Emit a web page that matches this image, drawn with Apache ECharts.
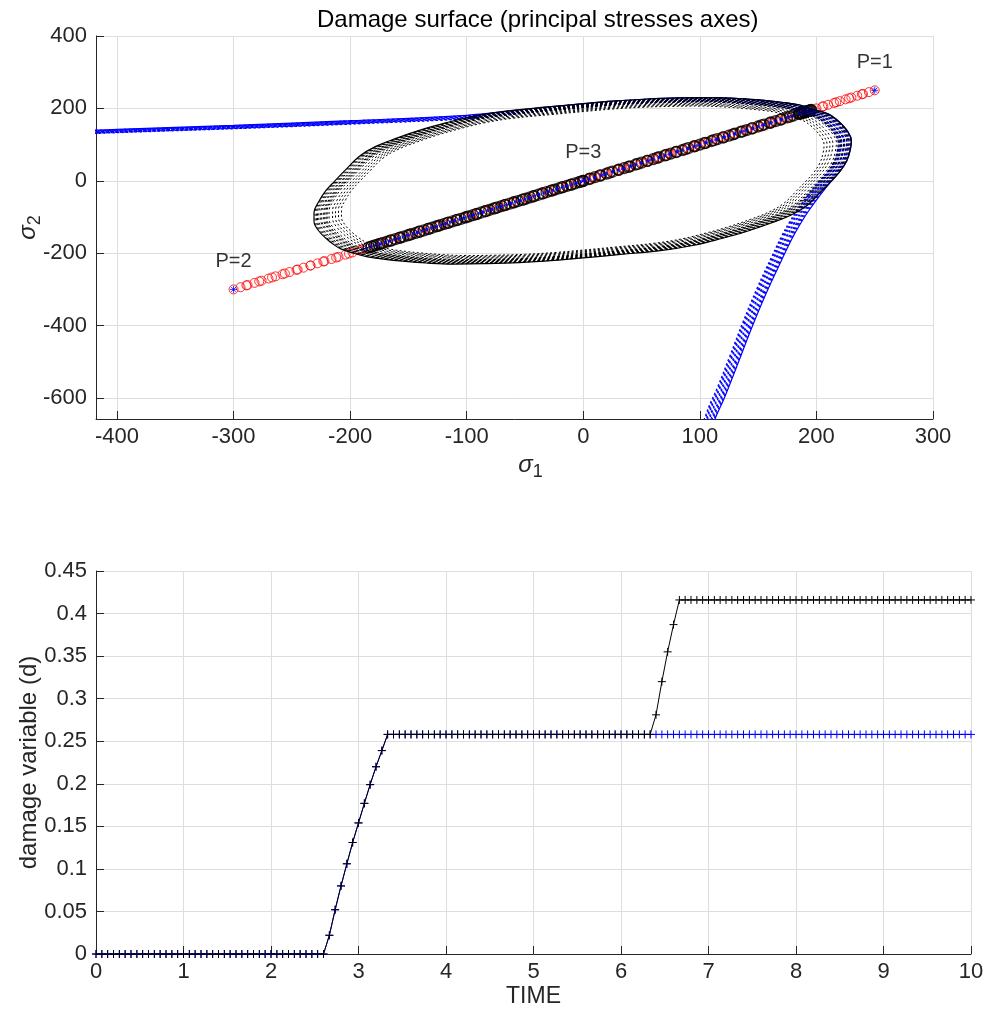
<!DOCTYPE html>
<html><head><meta charset="utf-8">
<script src="https://cdn.jsdelivr.net/npm/echarts@6.0.0/dist/echarts.min.js"></script>
<style>html,body{margin:0;padding:0;background:#fff}#c{width:987px;height:1010px}</style>
</head><body><div id="c"></div>
<script>
// ---------- TOP CHART DATA (principal stresses) ----------
// outer damage surface (symmetric model), [sigma1, sigma2]
const surfaceOuterSym = [
  [197,197],[185,210],[170,217],[155,222],[135,227],[112,230],[85,229],[55,226],[25,220],[0,213],[-30,204],[-68,192],[-95,178],[-118,160],[-140,140],
  [-160,118],[-178,95],[-192,68],[-204,30],[-213,0],[-221,-28],[-227,-58],[-231,-88],[-231,-112],[-227,-138],[-221,-158],[-215,-174],[-208,-188],[-197,-200],
  [-185,-210],[-170,-217],[-155,-222],[-135,-227],[-112,-230],[-85,-229],[-55,-226],[-25,-220],[0,-213],[30,-204],[68,-192],[95,-178],[118,-160],[140,-140],
  [160,-118],[178,-95],[192,-68],[204,-30],[213,0],[220,25],[226,55],[229,85],[230,112],[227,135],[222,155],[217,170],[210,185],[197,197]
];
// relative size q/q0 of the successive surfaces (symmetric model)
const surfaceScalesSym = [1, 0.996, 0.991, 0.987, 0.982, 0.975, 0.971, 0.964, 0.96, 0.955, 0.951, 0.944, 0.931, 0.92, 0.909, 0.898];
// outer damage surface (non-symmetric model)
const surfaceOuterNonsym = [
  [-470,134],[-418,140],[-400,142],[-300,153],[-200,166],[-100,181],[-60,194],[-30,204],[0,213],[25,220],[55,226],[85,229],[112,230],[135,227],[155,222],
  [170,217],[185,210],[197,197],[210,185],[217,170],[222,155],[227,135],[230,112],[229,85],[226,55],[220,25],[213,0],[203,-40],[194,-80],[186,-120],
  [179,-160],[170,-220],[157,-310],[144,-410],[132,-510],[121,-600],[113,-658],[102,-760]
];
const surfaceScalesNonsym = [1, 0.996, 0.991, 0.987, 0.982, 0.975, 0.971, 0.964, 0.96, 0.955, 0.951];

// effective stress path (sigma1 = sigma2)
const pathEffective = [
  0,5,10,15,20,25,30,35,40,45,50,55,60,65,70,75,80,85,90,95,100,105,110,115,120,125,130,135,140,145,150,155,160,165,170,175,180,185,190,195,200,205,210,215,220,225,230,235,240,245,250,
  239,228,217,206,195,184,173,162,151,140,129,118,107,96,85,74,63,52,41,30,19,8,-3,-14,-25,-36,-47,-58,-69,-80,-91,-102,-113,-124,-135,-146,-157,-168,-179,-190,-201,-212,-223,-234,-245,-256,-267,-278,-289,-300,
  -294,-288,-282,-276,-270,-264,-258,-252,-246,-240,-234,-228,-222,-216,-210,-204,-198,-192,-186,-180,-174,-168,-162,-156,-150,-144,-138,-132,-126,-120,-114,-108,-102,-96,-90,-84,-78,-72,-66,-60,-54,-48,-42,-36,-30,-24,-18,-12,-6,0
];
// stress path, symmetric model
const pathSym = [
  0,5,10,15,20,25,30,35,40,45,50,55,60,65,70,75,80,85,90,95,100,105,110,115,120,125,130,135,140,145,150,155,160,165,170,175,180,185,190,195,
  195.6,194.3,193.2,192.4,191.4,190.1,189.3,188,187.2,186.2,185.5,
  177.3,169.2,161,152.9,144.7,136.6,128.4,120.2,112.1,103.9,95.8,87.6,79.5,71.3,63.1,55,46.8,38.7,30.5,22.4,14.2,6,-2.1,-10.3,-18.4,-26.6,-34.8,-42.9,-51.1,-59.2,-67.4,-75.5,-83.7,-91.9,-100,-108.2,-116.3,-124.5,-132.6,-140.8,-149,-157.1,-165.3,-173.4,-181.6,
  -184,-181.6,-179.3,-177.2,-175.2,
  -171.7,-168.2,-164.7,-161.2,-157.7,-154.2,-150.7,-147.2,-143.7,-140.2,-136.7,-133.2,-129.7,-126.1,-122.6,-119.1,-115.6,-112.1,-108.6,-105.1,-101.6,-98.1,-94.6,-91.1,-87.6,-84.1,-80.6,-77.1,-73.6,-70.1,-66.6,-63.1,-59.6,-56.1,-52.6,-49.1,-45.6,-42,-38.5,-35,-31.5,-28,-24.5,-21,-17.5,-14,-10.5,-7,-3.5,0
];
// stress path, non-symmetric model
const pathNonsym = [
  0,5,10,15,20,25,30,35,40,45,50,55,60,65,70,75,80,85,90,95,100,105,110,115,120,125,130,135,140,145,150,155,160,165,170,175,180,185,190,195,
  195.6,194.3,193.2,192.4,191.4,190.1,189.3,188,187.2,186.2,185.5,
  177.5,169.5,161.5,153.5,145.5,137.5,129.5,121.5,113.5,105.5,97.5,89.5,81.5,73.5,65.5,57.5,49.5,41.5,33.5,25.5,17.5,9.5,1.5,-6.5,-14.5,-22.5,-30.5,-38.5,-46.5,-54.5,-62.5,-70.5,-78.5,-86.5,-94.5,-102.5,-110.5,-118.5,-126.5,-134.5,-142.5,-150.5,-158.5,-166.5,-174.5,-182.5,-190,
  -186,-182,-178,-174,-170,-166,-162,-158,-154,-150,-146,-142,-138,-134,-130,-126,-122,-118,-114,-110,-106,-102,-98,-94,-90,-86,-82,-78,-74,-70,-66,-62,-58,-54,-50,-46,-42,-38,-34,-30,-26,-22,-18,-14,-10,-6,-2,0
];
const loadPoints = [[250,250],[-300,-300],[0,0]];
const loadLabels = ['P=1','P=2','P=3'];

// ---------- BOTTOM CHART DATA ----------
const timeSteps = [
  0,0.067,0.133,0.2,0.267,0.333,0.4,0.467,0.533,0.6,0.667,0.733,0.8,0.867,0.933,
  1,1.067,1.133,1.2,1.267,1.333,1.4,1.467,1.533,1.6,1.667,1.733,1.8,1.867,1.933,
  2,2.067,2.133,2.2,2.267,2.333,2.4,2.467,2.533,2.6,2.667,2.733,2.8,2.867,2.933,
  3,3.067,3.133,3.2,3.267,3.333,3.4,3.467,3.533,3.6,3.667,3.733,3.8,3.867,3.933,
  4,4.067,4.133,4.2,4.267,4.333,4.4,4.467,4.533,4.6,4.667,4.733,4.8,4.867,4.933,
  5,5.067,5.133,5.2,5.267,5.333,5.4,5.467,5.533,5.6,5.667,5.733,5.8,5.867,5.933,
  6,6.067,6.133,6.2,6.267,6.333,6.4,6.467,6.533,6.6,6.667,6.733,6.8,6.867,6.933,
  7,7.067,7.133,7.2,7.267,7.333,7.4,7.467,7.533,7.6,7.667,7.733,7.8,7.867,7.933,
  8,8.067,8.133,8.2,8.267,8.333,8.4,8.467,8.533,8.6,8.667,8.733,8.8,8.867,8.933,
  9,9.067,9.133,9.2,9.267,9.333,9.4,9.467,9.533,9.6,9.667,9.733,9.8,9.867,9.933,
  10
];
const damageSym = [
  0,0,0,0,0,0,0,0,0,0,0,0,0,0,0,
  0,0,0,0,0,0,0,0,0,0,0,0,0,0,0,
  0,0,0,0,0,0,0,0,0,0,0.022,0.052,0.08,0.106,0.131,
  0.154,0.177,0.199,0.22,0.239,0.258,0.258,0.258,0.258,0.258,0.258,0.258,0.258,0.258,0.258,
  0.258,0.258,0.258,0.258,0.258,0.258,0.258,0.258,0.258,0.258,0.258,0.258,0.258,0.258,0.258,
  0.258,0.258,0.258,0.258,0.258,0.258,0.258,0.258,0.258,0.258,0.258,0.258,0.258,0.258,0.258,
  0.258,0.258,0.258,0.258,0.258,0.258,0.281,0.32,0.355,0.387,0.416,0.416,0.416,0.416,0.416,
  0.416,0.416,0.416,0.416,0.416,0.416,0.416,0.416,0.416,0.416,0.416,0.416,0.416,0.416,0.416,
  0.416,0.416,0.416,0.416,0.416,0.416,0.416,0.416,0.416,0.416,0.416,0.416,0.416,0.416,0.416,
  0.416,0.416,0.416,0.416,0.416,0.416,0.416,0.416,0.416,0.416,0.416,0.416,0.416,0.416,0.416,
  0.416
];
const damageNonsym = [
  0,0,0,0,0,0,0,0,0,0,0,0,0,0,0,
  0,0,0,0,0,0,0,0,0,0,0,0,0,0,0,
  0,0,0,0,0,0,0,0,0,0,0.022,0.052,0.08,0.106,0.131,
  0.154,0.177,0.199,0.22,0.239,0.258,0.258,0.258,0.258,0.258,0.258,0.258,0.258,0.258,0.258,
  0.258,0.258,0.258,0.258,0.258,0.258,0.258,0.258,0.258,0.258,0.258,0.258,0.258,0.258,0.258,
  0.258,0.258,0.258,0.258,0.258,0.258,0.258,0.258,0.258,0.258,0.258,0.258,0.258,0.258,0.258,
  0.258,0.258,0.258,0.258,0.258,0.258,0.258,0.258,0.258,0.258,0.258,0.258,0.258,0.258,0.258,
  0.258,0.258,0.258,0.258,0.258,0.258,0.258,0.258,0.258,0.258,0.258,0.258,0.258,0.258,0.258,
  0.258,0.258,0.258,0.258,0.258,0.258,0.258,0.258,0.258,0.258,0.258,0.258,0.258,0.258,0.258,
  0.258,0.258,0.258,0.258,0.258,0.258,0.258,0.258,0.258,0.258,0.258,0.258,0.258,0.258,0.258,
  0.258
];

// ---------- STYLE ----------
const FONT = '"Liberation Sans", Arial, Helvetica, sans-serif';
const TXT = '#262626';
const GRIDC = '#dedede';
const PLUS = 'path://M0,5L10,5M5,0L5,10';
const STAR = 'path://M5,0L5,10M0,5L10,5M1.5,1.5L8.5,8.5M8.5,1.5L1.5,8.5';
const CROSS = 'path://M0,0L10,10M10,0L0,10';

function scaledSurface(outer, s) { return outer.map(p => [p[0] * s, p[1] * s]); }
function diag(arr) { return arr.map(v => [v, v]); }
function tbl(xs, ys) { return xs.map((x, i) => [x, ys[i]]); }

function surfaceSeries(outer, scales, color, w) {
  return scales.map((s, i) => ({
    type: 'line', xAxisIndex: 0, yAxisIndex: 0, silent: true,
    data: scaledSurface(outer, s), smooth: 0.4, showSymbol: false, clip: true,
    lineStyle: i === 0 ? {color: color, width: 1.2} : {color: color, width: w, type: [2.2 * s, 2.6 * s], dashOffset: 0}
  }));
}

function axisStyle(o) {
  const base = {
    type: 'value',
    axisLine: {show: true, onZero: false, lineStyle: {color: TXT, width: 1}},
    axisTick: {show: true, inside: true, length: 8, lineStyle: {color: TXT, width: 1}},
    splitLine: {show: true, lineStyle: {color: GRIDC, width: 1}},
    nameMoveOverlap: false
  };
  return Object.assign(base, o);
}

const sigRich = {
  s: {fontSize: 24, fontStyle: 'italic', fontFamily: FONT, color: TXT},
  n: {fontSize: 18, fontFamily: FONT, color: TXT, padding: [14, 0, 0, 0]}
};

const series = [
  ...surfaceSeries(surfaceOuterNonsym, surfaceScalesNonsym, '#0000ff', 1.2),
  ...surfaceSeries(surfaceOuterSym, surfaceScalesSym, '#000000', 1),
  {type: 'scatter', xAxisIndex: 0, yAxisIndex: 0, silent: true, data: diag(pathEffective), symbol: 'circle', symbolSize: 9,
   itemStyle: {color: 'rgba(0,0,0,0)', borderColor: '#ff0000', borderWidth: 1}},
  {type: 'scatter', xAxisIndex: 0, yAxisIndex: 0, silent: true, data: diag(pathSym), symbol: 'circle', symbolSize: 11,
   itemStyle: {color: 'rgba(0,0,0,0)', borderColor: '#000000', borderWidth: 1.3}},
  {type: 'scatter', xAxisIndex: 0, yAxisIndex: 0, silent: true, data: diag(pathNonsym), symbol: 'circle', symbolSize: 3,
   itemStyle: {color: '#0000ff'}},
  {type: 'scatter', xAxisIndex: 0, yAxisIndex: 0, silent: true, data: loadPoints.slice(0, 2), symbol: STAR, symbolSize: 7,
   itemStyle: {color: 'rgba(0,0,0,0)', borderColor: '#0000ff', borderWidth: 1}},
  {type: 'scatter', xAxisIndex: 0, yAxisIndex: 0, silent: true, data: loadPoints.slice(2), symbol: CROSS, symbolSize: 7,
   itemStyle: {color: 'rgba(0,0,0,0)', borderColor: '#0000ff', borderWidth: 1}},
  {type: 'scatter', xAxisIndex: 0, yAxisIndex: 0, silent: true, symbolSize: 0,
   data: loadPoints.map((p, i) => ({value: p, name: loadLabels[i]})),
   label: {show: true, position: 'top', distance: 18, formatter: '{b}', fontSize: 20, fontFamily: FONT, color: '#000'}},
  // bottom chart
  {type: 'line', xAxisIndex: 1, yAxisIndex: 1, silent: true, data: tbl(timeSteps, damageNonsym), symbol: PLUS, symbolSize: 8, showSymbol: true,
   lineStyle: {color: '#0000ff', width: 1}, itemStyle: {color: 'rgba(0,0,0,0)', borderColor: '#0000ff', borderWidth: 1}},
  {type: 'line', xAxisIndex: 1, yAxisIndex: 1, silent: true, data: tbl(timeSteps, damageSym), symbol: PLUS, symbolSize: 8, showSymbol: true,
   lineStyle: {color: '#000000', width: 1}, itemStyle: {color: 'rgba(0,0,0,0)', borderColor: '#000000', borderWidth: 1}}
];

const chart = echarts.init(document.getElementById('c'));
chart.setOption({
  animation: false,
  backgroundColor: '#ffffff',
  title: {text: 'Damage surface (principal stresses axes)', left: 312, top: 3,
          textStyle: {fontFamily: FONT, fontSize: 24, fontWeight: 'normal', color: '#000'}},
  grid: [
    {left: 96, right: 54, top: 36, bottom: 591, containLabel: false, outerBoundsMode: 'none'},
    {left: 96, right: 16, top: 571, bottom: 56, containLabel: false, outerBoundsMode: 'none'}
  ],
  xAxis: [
    axisStyle({gridIndex: 0, min: -418, max: 300, splitNumber: 7,
      axisLabel: {color: TXT, fontSize: 22, fontFamily: FONT, margin: 7, showMinLabel: false},
      name: '{s|σ}{n|1}', nameLocation: 'middle', nameGap: 30,
      nameTextStyle: {rich: sigRich, padding: [0, 0, 0, 32]}}),
    axisStyle({gridIndex: 1, min: 0, max: 10, interval: 1,
      axisLabel: {color: TXT, fontSize: 22, fontFamily: FONT, margin: 7},
      name: 'TIME', nameLocation: 'middle', nameGap: 31,
      nameTextStyle: {fontSize: 23, fontFamily: FONT, color: TXT}})
  ],
  yAxis: [
    axisStyle({gridIndex: 0, min: -658, max: 400, splitNumber: 5,
      axisLabel: {color: TXT, fontSize: 22, fontFamily: FONT, margin: 9, showMinLabel: false},
      name: '{s|σ}{n|2}', nameLocation: 'middle', nameGap: 52, nameRotate: 90,
      nameTextStyle: {rich: sigRich}}),
    axisStyle({gridIndex: 1, min: 0, max: 0.45, interval: 0.05,
      axisLabel: {color: TXT, fontSize: 22, fontFamily: FONT, margin: 9},
      name: 'damage variable (d)', nameLocation: 'middle', nameGap: 55, nameRotate: 90,
      nameTextStyle: {fontSize: 24, fontFamily: FONT, color: TXT}})
  ],
  series: series
});
</script></body></html>
